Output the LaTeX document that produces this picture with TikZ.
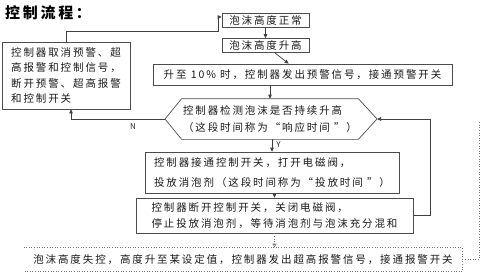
\documentclass[tikz,border=0pt]{standalone}
\usepackage{fontspec}
\setmainfont{Noto Sans CJK SC}[LetterSpace=18]
\usetikzlibrary{arrows.meta}
\begin{document}
\begin{tikzpicture}[x=1pt,y=-1pt,
  box/.style={draw=black!70, line width=0.7pt, inner sep=0pt, text=black!90, font=\fontsize{10.5}{15}\selectfont},
  arr/.style={-{Triangle[length=4pt,width=3.6pt]}, draw=black!75, line width=0.7pt},
  darr/.style={-{Triangle[open,length=4pt,width=4pt]}, draw=black!55, dotted, line width=0.6pt},
  dline/.style={draw=black!55, dotted, line width=0.6pt},
  lbl/.style={font=\fontsize{8}{8}\selectfont, text=black!85, inner sep=0pt}]
\useasboundingbox (0,0) rectangle (480,273);
\node[anchor=west, inner sep=0pt, font=\fontsize{15}{15}\selectfont\bfseries] (title) at (5,13) {控制流程：};
\node[box, minimum width=87, minimum height=14] (n1) at (265.5,20) {泡沫高度正常};
\node[box, minimum width=87, minimum height=14] (n2) at (265.5,45.5) {泡沫高度升高};
\node[box, minimum width=299, minimum height=21] (n3) at (302.5,74.5) {升至 10\% 时，控制器发出预警信号，接通预警开关};
\node[box, draw=none, minimum width=176, minimum height=40, align=left, font=\fontsize{10.5}{17}\selectfont] (hx) at (270,119) {控制器检测泡沫是否持续升高\\（这段时间称为“响应时间 ”）};
\coordinate (hxL) at (165,119);
\coordinate (hxR) at (377,119);
\draw[draw=black!70, line width=0.7pt] (hx.north west) -- (hx.north east) -- (hxR) -- (hx.south east) -- (hx.south west) -- (hxL) -- cycle;
\node[box, minimum width=254, minimum height=41, align=left, font=\fontsize{10.5}{20}\selectfont] (n5) at (272,172.5) {控制器接通控制开关，打开电磁阀，\\投放消泡剂（这段时间称为“投放时间 ”）};
\node[box, minimum width=277, minimum height=35, align=left, font=\fontsize{10.5}{16}\selectfont] (n6) at (274.5,215.5) {控制器断开控制开关，关闭电磁阀，\\停止投放消泡剂，等待消泡剂与泡沫充分混和};
\node[box, minimum width=128, minimum height=67, align=left, font=\fontsize{10.5}{15.4}\selectfont] (lb) at (66,75.5) {控制器取消预警、超\\高报警和控制信号，\\断开预警、超高报警\\和控制开关};
\node[box, draw=none, minimum width=438, minimum height=23] (bt) at (243,259.5) {泡沫高度失控，高度升至某设定值，控制器发出超高报警信号，接通报警开关};
\draw[dline] (bt.north west) -- (bt.north east) -- (bt.south east) -- (bt.south west);
\coordinate (dt) at (479,122);
\draw[dline] (bt.east) -- (bt.east -| dt) -- (dt);
\draw[arr] (n1) -- (n2);
\draw[arr] (n2) -- (n3);
\draw[arr] (n3.south -| hx) -- (hx.north);
\draw[arr] (hx.south -| n5) -- (n5.north) node[lbl, pos=0.45, right=4pt] (ylab) {Y};
\draw[arr] (n5.south -| n6) -- (n6.north -| n6);
\coordinate (rr) at (430,0);
\draw[arr] (n6.east) -- (n6.east -| rr) -- (hxR -| rr) -- (hxR);
\coordinate (lbs) at ([xshift=5pt]lb.south);
\draw[arr] (hxL) -- (hxL -| lbs) -- (lbs);
\node[lbl] (nlab) at (133,127) {N};
\coordinate (c1) at (218,31);
\draw[arr] (lb.north) |- (c1) |- ([yshift=3pt]n1.west);
\draw[darr] (n6.south) -- (bt.north -| n6.south);
\end{tikzpicture}
\end{document}
